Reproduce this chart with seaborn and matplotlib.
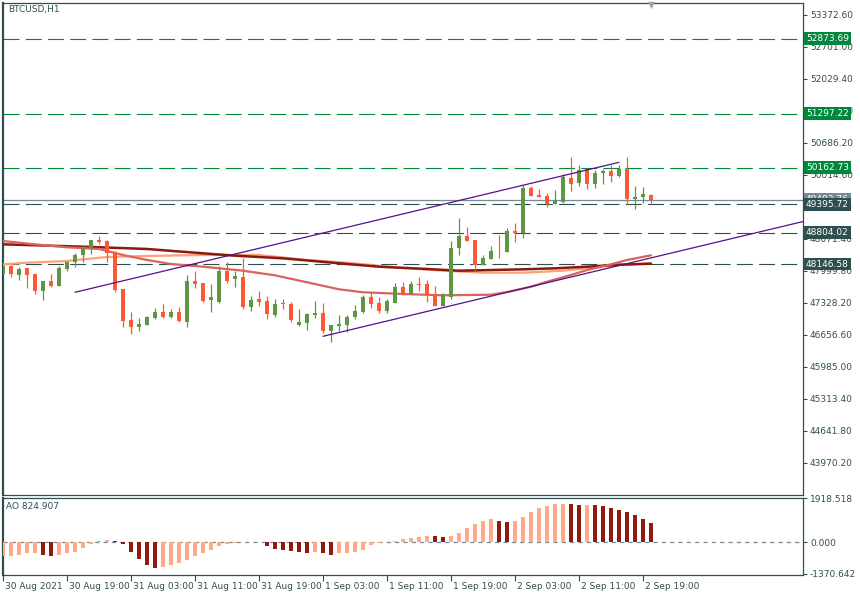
import numpy as np
import matplotlib
matplotlib.use("Agg")
import matplotlib.pyplot as plt
from matplotlib.transforms import ScaledTranslation
import seaborn as sns

# ---------------- data ----------------
symbol_title = "BTCUSD,H1"
ao_title = "AO 824.907"

opens = [47943, 48110, 47915, 48056, 47930, 47579, 47789, 47684, 48041, 48182,
         48335, 48476, 48650, 48635, 48404, 47621, 46971, 46830, 46866, 47019,
         47132, 47034, 47132, 46935, 47789, 47747, 47397, 47349, 48005, 47825,
         47867, 47250, 47411, 47370, 47076, 47313, 47307, 46872, 46915, 47083,
         47124, 46740, 46845, 46872, 47040, 47139, 47460, 47334, 47166, 47334,
         47670, 47516, 47726, 47726, 47474, 47265, 47460, 48475, 48734, 48650,
         48132, 48258, 48425, 48404, 48839, 48797, 49741, 49601, 49573, 49406,
         49448, 49951, 49853, 50134, 49825, 50063, 50092, 49993, 50147, 49517,
         49546, 49588]
highs = [48125, 48125, 48089, 48068, 47936, 47789, 47936, 48110, 48209, 48377,
         48545, 48650, 48734, 48656, 48425, 47621, 47132, 47006, 47061, 47216,
         47300, 47195, 47244, 47915, 47999, 47747, 47726, 48104, 48188, 48005,
         48272, 47474, 47573, 47474, 47405, 47418, 47349, 47195, 47124, 47370,
         47334, 46872, 47070, 47070, 47279, 47489, 47559, 47453, 47418, 47741,
         47768, 47783, 47867, 47810, 47684, 47530, 48635, 49112, 48929, 48650,
         48329, 48524, 48761, 48896, 49000, 49811, 49783, 49714, 49630, 49700,
         50035, 50399, 50218, 50134, 50119, 50134, 50231, 50231, 50399, 49783,
         49756, 49616]
lows = [47936, 47880, 47810, 47649, 47517, 47397, 47663, 47684, 48006, 48089,
        48195, 48362, 48560, 48195, 47565, 46830, 46683, 46740, 46866, 46998,
        47019, 47019, 46935, 46830, 47649, 47355, 47145, 47321, 47741, 47670,
        47208, 47166, 47271, 46998, 47040, 47208, 46935, 46851, 46761, 47006,
        46704, 46515, 46734, 46719, 46992, 47114, 47216, 47114, 47114, 47334,
        47489, 47516, 47586, 47349, 47265, 47265, 47418, 48341, 48635, 48020,
        48132, 48244, 48272, 48404, 48608, 48692, 49573, 49560, 49336, 49406,
        49433, 49685, 49783, 49714, 49741, 49825, 49867, 49979, 49406, 49307,
        49420, 49406]
closes = [48110, 47930, 48041, 47915, 47579, 47789, 47684, 48068, 48182, 48335,
          48476, 48650, 48614, 48377, 47600, 46956, 46830, 46887, 47034, 47132,
          47034, 47132, 46950, 47789, 47733, 47370, 47454, 47999, 47796, 47894,
          47250, 47391, 47355, 47103, 47307, 47300, 46971, 46929, 47097, 47124,
          46734, 46872, 46887, 47040, 47160, 47460, 47307, 47166, 47376, 47670,
          47516, 47726, 47712, 47489, 47265, 47516, 48482, 48734, 48635, 48132,
          48272, 48425, 48412, 48839, 48797, 49741, 49573, 49560, 49406, 49475,
          49979, 49825, 50119, 49825, 50063, 50092, 49993, 50147, 49504, 49546,
          49616, 49493.76]

ao_values = [-620, -581, -537, -465, -450, -537, -581, -537, -480, -407,
             -232, -87, 58, 102, 58, -87, -407, -712, -988, -1104,
             -1061, -973, -886, -756, -596, -450, -320, -174, -60, -25,
             5, 25, 15, -145, -290, -334, -378, -421, -450, -440,
             -460, -537, -480, -470, -436, -350, -130, -50, 5, 44,
             145, 203, 232, 290, 270, 240, 290, 407, 625, 799,
             930, 1017, 950, 886, 930, 1104, 1322, 1497, 1584, 1660,
             1675, 1650, 1630, 1640, 1627, 1584, 1497, 1409, 1322, 1191,
             1017, 824.907]

# moving averages (vertices, bar index -> price)
ma_slow_idx = [0, 10, 18, 25, 29, 35, 43, 47, 53, 57, 65, 69, 73, 77, 81]
ma_slow_val = [48560, 48510, 48462, 48371, 48321, 48266, 48147, 48090, 48042,
               48006, 48035, 48056, 48090, 48132, 48153]
ma_mid_idx = [0, 3, 8, 13, 18, 25, 32, 38, 43, 49, 55, 60, 65, 70, 74, 77, 81]
ma_mid_val = [48140, 48174, 48210, 48294, 48315, 48336, 48336, 48231, 48174,
              48077, 48006, 47964, 47964, 48006, 48077, 48126, 48161]
ma_fast_idx = [0, 4, 8, 12, 15, 18, 21, 25, 30, 34, 38, 42, 45, 51, 55, 61,
               63, 66, 68, 71, 73, 76, 78, 81]
ma_fast_val = [48629, 48560, 48497, 48462, 48336, 48231, 48147, 48090, 48006,
               47909, 47763, 47616, 47553, 47511, 47490, 47502, 47559, 47670,
               47775, 47916, 48020, 48140, 48231, 48329]

# channel trend lines (two anchor points each)
upper_trend_idx = [9, 77]
upper_trend_val = [47553, 50281]
lower_trend_idx = [40, 82]
lower_trend_val = [46629, 48315]

green_levels = [52873.69, 51297.22, 50162.73]
slate_levels = [49395.72, 48804.02, 48146.58]
bid_price = 49493.76

price_ticks = [53372.60, 52701.00, 52029.40, 51357.80, 50686.20, 50014.60,
               49343.00, 48671.40, 47999.80, 47328.20, 46656.60, 45985.00,
               45313.40, 44641.80, 43970.20]
ao_ticks = [1918.518, 0.0, -1370.642]
ao_tick_labels = ["1918.518", "0.000", "-1370.642"]
time_tick_idx = [0, 8, 16, 24, 32, 40, 48, 56, 64, 72, 80]
time_tick_labels = ["30 Aug 2021", "30 Aug 19:00", "31 Aug 03:00", "31 Aug 11:00",
                    "31 Aug 19:00", "1 Sep 03:00", "1 Sep 11:00", "1 Sep 19:00",
                    "2 Sep 03:00", "2 Sep 11:00", "2 Sep 19:00"]

# ---------------- style ----------------
sns.set_style("white")
plt.rcParams["font.family"] = ["DejaVu Sans"]
plt.rcParams["lines.scale_dashes"] = False

TXT = "#2F4F4F"
C_UP = "#5E9644"
C_DN = "#FF5833"
C_GREEN_LVL = "#00873C"
C_SLATE = "#2F4F4F"
C_GRAY = "#778899"
C_MA_SLOW = "#8B1A0E"
C_MA_MID = "#FFA07A"
C_MA_FAST = "#D9645E"
C_TREND = "#550F8C"
C_AO_UP = "#FFAA88"
C_AO_DN = "#8E1A10"
FS = 6.5

W, H = 860, 595
fig = plt.figure(figsize=(W / 100, H / 100), dpi=100)
fig.patch.set_facecolor("white")
left, right = 3, 803
main_top, main_bot = 2.5, 495
ao_top, ao_bot = 497.5, 574.5
ax = fig.add_axes([left / W, 1 - main_bot / H, (right - left) / W, (main_bot - main_top) / H])
ax2 = fig.add_axes([left / W, 1 - ao_bot / H, (right - left) / W, (ao_bot - ao_top) / H])

# ---------------- main panel ----------------
o = np.array(opens, float)
h = np.array(highs, float)
l = np.array(lows, float)
c = np.array(closes, float)
idx = np.arange(len(o))
up = c >= o
cols = np.where(up, C_UP, C_DN)

# horizontal levels
for lv in green_levels:
    ax.axhline(lv, color=C_GREEN_LVL, lw=0.8, dashes=(11.5, 4.5), zorder=1)
for lv in slate_levels:
    ax.axhline(lv, color=C_SLATE, lw=0.8, dashes=(11.5, 4.5), zorder=1)
ax.axhline(bid_price, color=C_GRAY, lw=0.9, zorder=1)

# moving averages
sns.lineplot(x=ma_mid_idx, y=ma_mid_val, ax=ax, color=C_MA_MID, lw=1.6,
             estimator=None, sort=False, zorder=3)
sns.lineplot(x=ma_slow_idx, y=ma_slow_val, ax=ax, color=C_MA_SLOW, lw=1.8,
             estimator=None, sort=False, zorder=3)
sns.lineplot(x=ma_fast_idx, y=ma_fast_val, ax=ax, color=C_MA_FAST, lw=1.6,
             estimator=None, sort=False, zorder=3)

# candles
ax.vlines(idx, l, h, colors=cols, lw=0.9, zorder=4)
body = np.maximum(np.abs(c - o), 18)
ax.bar(idx, body, bottom=np.minimum(o, c), width=0.6, color=cols, linewidth=0, zorder=5)

# trend lines
ax.set_xlim(0, 100)
sns.lineplot(x=upper_trend_idx, y=upper_trend_val, ax=ax, color=C_TREND, lw=0.9,
             estimator=None, sort=False, zorder=6)
slope = (lower_trend_val[1] - lower_trend_val[0]) / (lower_trend_idx[1] - lower_trend_idx[0])
x_end = ax.get_xlim()[1]
lower_x = [lower_trend_idx[0], x_end]
lower_y = [lower_trend_val[0], lower_trend_val[0] + slope * (x_end - lower_trend_idx[0])]
sns.lineplot(x=lower_x, y=lower_y, ax=ax, color=C_TREND, lw=0.9,
             estimator=None, sort=False, zorder=6)

ax.set_xlim(0, 100)
ax.set_ylim(43298.6, 53634.9)
ax.set_xticks([])
ax.yaxis.tick_right()
ax.set_yticks(price_ticks)
ax.set_yticklabels([f"{t:.2f}" for t in price_ticks])
ax.tick_params(axis="y", direction="out", length=3, width=0.8, color=TXT,
               labelcolor=TXT, labelsize=FS, pad=2, right=True, left=False)
ax.set_xlabel("")
ax.set_ylabel("")
for sp in ax.spines.values():
    sp.set_color(TXT)
    sp.set_linewidth(0.9)
ax.spines["left"].set_linewidth(1.6)

ax.text(0.006, 0.985, symbol_title, transform=ax.transAxes, ha="left", va="center",
        fontsize=FS, color=TXT)

# shift marker
ax.scatter([idx[-1]], [0.995], transform=ax.get_xaxis_transform(), marker="v",
           s=28, color="#9AA5AE", clip_on=False, zorder=7, linewidths=0)

# price labels on the axis
def price_box(val, col, z):
    ax.annotate(f"{val:.2f}", xy=(1, val), xycoords=("axes fraction", "data"),
                xytext=(3, 0), textcoords="offset pixels", ha="left", va="center",
                color="white", fontsize=FS, annotation_clip=False, zorder=z,
                bbox=dict(boxstyle="square,pad=0.22", fc=col, ec="none"))

price_box(bid_price, C_GRAY, 20)
for lv in green_levels:
    price_box(lv, C_GREEN_LVL, 21)
for lv in slate_levels:
    price_box(lv, C_SLATE, 21)

# ---------------- AO panel ----------------
ao = np.array(ao_values, float)
ao_cols = [C_AO_UP] + [C_AO_UP if ao[i] > ao[i - 1] else C_AO_DN for i in range(1, len(ao))]
ax2.bar(idx, ao, width=0.6, color=ao_cols, linewidth=0, zorder=3)
ax2.axhline(0, color=C_GRAY, lw=0.9, dashes=(3, 3), zorder=2)
ax2.set_xlim(0, 100)
ax2.set_ylim(-1405.5, 1953.4)
ax2.yaxis.tick_right()
ax2.set_yticks(ao_ticks)
ax2.set_yticklabels(ao_tick_labels)
ax2.tick_params(axis="y", direction="out", length=3, width=0.8, color=TXT,
                labelcolor=TXT, labelsize=FS, pad=2, right=True, left=False)
ax2.set_xticks(time_tick_idx)
ax2.set_xticklabels(time_tick_labels, ha="left")
ax2.tick_params(axis="x", direction="out", length=4, width=0.8, color=TXT,
                labelcolor=TXT, labelsize=FS, pad=1.5, bottom=True)
off = ScaledTranslation(2 / 100, 0, fig.dpi_scale_trans)
for lbl in ax2.get_xticklabels():
    lbl.set_transform(lbl.get_transform() + off)
for sp in ax2.spines.values():
    sp.set_color(TXT)
    sp.set_linewidth(0.9)
ax2.spines["left"].set_linewidth(1.6)
ax2.set_xlabel("")
ax2.set_ylabel("")
ax2.text(0.004, 0.885, ao_title, transform=ax2.transAxes, ha="left", va="center",
         fontsize=FS, color=TXT)

fig.savefig("out.png", dpi=100, facecolor="white")
